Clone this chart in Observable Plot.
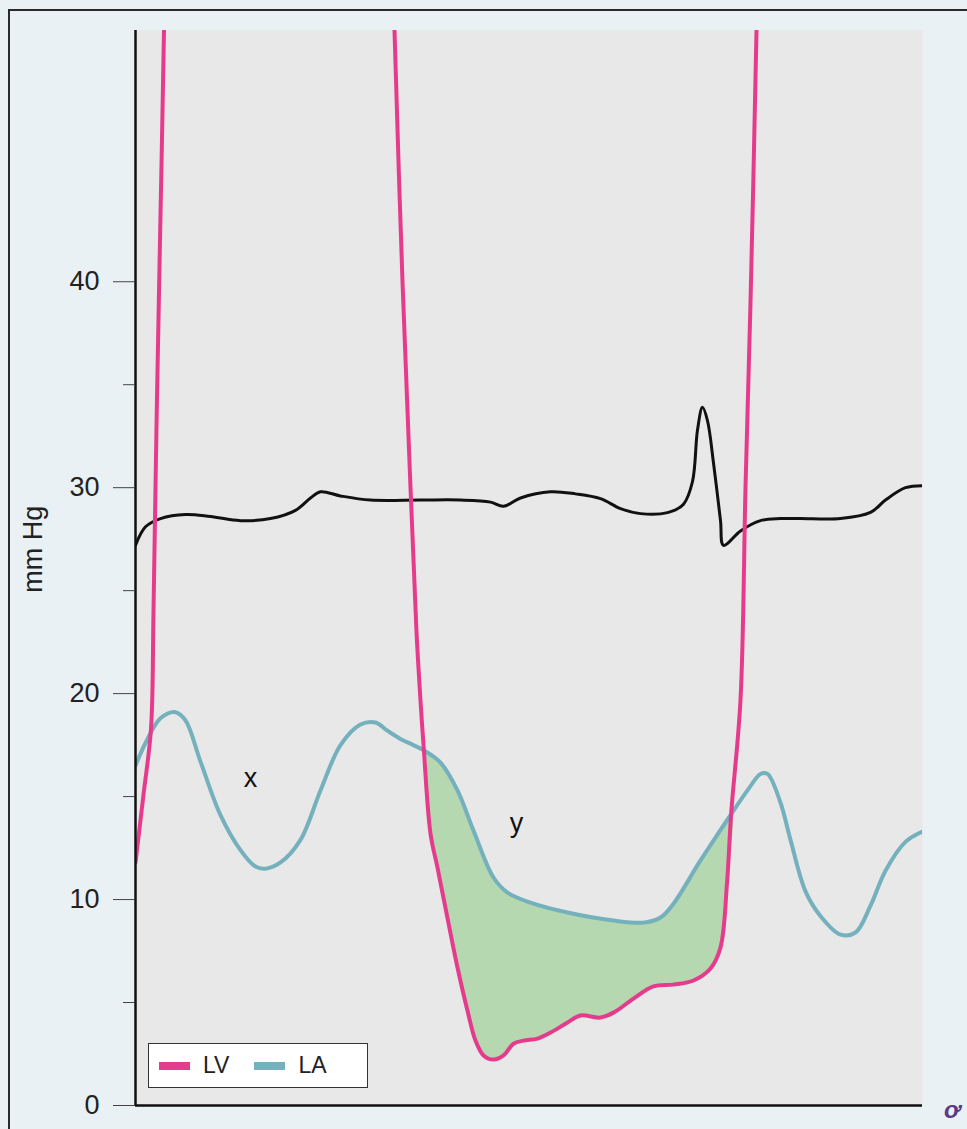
<!DOCTYPE html>
<html><head><meta charset="utf-8">
<script src="https://cdn.jsdelivr.net/npm/d3@7"></script>
<script src="https://cdn.jsdelivr.net/npm/@observablehq/plot@0.6"></script>
<style>
html,body{margin:0;padding:0;background:#e9f1f4;width:967px;height:1129px;overflow:hidden;font-family:"Liberation Sans",Arial,Helvetica,sans-serif;}
#wrap{position:relative;width:967px;height:1129px;}
#border{position:absolute;left:8px;top:9px;right:0;bottom:0;border-top:2.5px solid #2a2a2a;border-left:2.5px solid #2a2a2a;pointer-events:none}
#legend{position:absolute;left:148px;top:1043px;width:218px;height:43px;background:#fff;border:1.5px solid #333;display:flex;align-items:center;font-size:23px;color:#222}
.sw{display:inline-block;width:31px;height:8px;margin-left:10px;margin-right:13px}
#logo{position:absolute;left:944px;top:1096px;font-size:24px;color:#5b3a8c;font-style:italic;font-weight:bold}
svg{position:absolute;left:0;top:0}
</style></head>
<body><div id="wrap"><div id="border"></div></div>
<script>
// Time axis (arbitrary units across the trace), pressure in mm Hg
const lvT = [0,8,15.5,18,21,24.5,28.5,30, 100, 256,259,267,275,281,285,288.3,295,302,312,322,332,340,348,358,368,378,388,402,415,432,445,465,478,498,518,538,558,575,585,591.5,595.7,605,610,615,621,623];
const lvP = [11.8,15.1,18.3,24,33,42,52.2,58, NaN, 58,52.2,40,30,23,19.66,17.3,13.2,11.55,9.1,6.7,4.6,3.15,2.43,2.23,2.43,3.0,3.15,3.25,3.54,4.03,4.37,4.27,4.51,5.19,5.78,5.87,6.07,6.65,7.67,10.8,14.2,19.7,30,39,52.2,58];

const laT = [0,10,25,40,50,65,85,105,120,130,145,165,185,205,225,240,252,265,278,288.3,305,322,338,358,372,395,432,478,508,525,538,565,595.7,612,625,632,645,655,670,685,705,720,735,750,770,787];
const laP = [16.5,17.6,18.8,19.1,18.7,16.7,14.1,12.4,11.6,11.5,11.8,12.9,15.3,17.5,18.5,18.6,18.2,17.8,17.5,17.25,16.65,15.3,13.35,11.07,10.34,9.85,9.37,8.98,8.88,9.13,9.8,11.9,14.15,15.3,16.1,16.1,14.7,12.9,10.4,9.2,8.3,8.4,9.7,11.4,12.8,13.3];

const blackT = [0,10,25,50,75,105,135,160,175,185,205,235,285,325,355,368,385,415,440,465,485,505,532,548,557,562,567,572,578,585,588,605,625,645,665,705,735,750,770,787];
const blackP = [27.2,28.1,28.5,28.7,28.6,28.4,28.5,28.9,29.5,29.8,29.6,29.4,29.4,29.4,29.3,29.1,29.5,29.8,29.7,29.47,28.98,28.74,28.79,29.2,30.3,32.8,33.9,33.25,31.2,28.4,27.2,27.9,28.4,28.5,28.5,28.5,28.8,29.4,30.0,30.1];

const fillStart = 288.3, fillEnd = 595.7;
const majorTicks = [0,10,20,30,40];
const minorTicks = [5,15,25,35];
const labels = [{t:115, p:15.9, s:"x"}, {t:381, p:13.7, s:"y"}];
const yLabel = "mm Hg";
const legendItems = [{name:"LV", color:"#e63b8c"}, {name:"LA", color:"#74b1bd"}];

const lv = lvT.map((t,i)=>({t, p:lvP[i]}));
const la = laT.map((t,i)=>({t, p:laP[i]}));
const blk = blackT.map((t,i)=>({t, p:blackP[i]}));
const poly = la.filter(d=>d.t>=fillStart && d.t<=fillEnd)
  .concat(lv.filter(d=>d.t>fillStart && d.t<fillEnd && !isNaN(d.p)).reverse());

const font = '"Liberation Sans", Arial, Helvetica, sans-serif';
const chart = Plot.plot({
  width:967, height:1129,
  marginLeft:135, marginRight:45, marginTop:30, marginBottom:24,
  x:{domain:[0,787], axis:null},
  y:{domain:[0,52.2], axis:null},
  style:{background:"transparent", fontFamily:font, fontSize:"26px"},
  marks:[
    Plot.frame({fill:"#e8e8e8", stroke:"none"}),
    Plot.line(poly, {x:"t", y:"p", fill:"#b5d8b1", stroke:"none", curve:"catmull-rom"}),
    Plot.line(blk, {x:"t", y:"p", stroke:"#111", strokeWidth:3, curve:"catmull-rom", clip:true}),
    Plot.line(la, {x:"t", y:"p", stroke:legendItems[1].color, strokeWidth:4, curve:"catmull-rom", clip:true}),
    Plot.line(lv, {x:"t", y:"p", stroke:legendItems[0].color, strokeWidth:4, curve:"catmull-rom", clip:true}),
    Plot.ruleX([0], {stroke:"#111", strokeWidth:2.5}),
    Plot.ruleY([0], {stroke:"#111", strokeWidth:2.5}),
    Plot.axisY(majorTicks, {anchor:"left", tickSize:22, tickPadding:14, stroke:"#444", fill:"#222", fontSize:27, label:null, tickFormat:d=>String(d)}),
    Plot.axisY(minorTicks, {anchor:"left", tickSize:12, stroke:"#444", label:null, tickFormat:()=>""}),
    Plot.text([yLabel], {frameAnchor:"left", y:()=>24.9, dx:-102, rotate:-90, fontSize:27, fill:"#222"}),
    Plot.text(labels, {x:"t", y:"p", text:"s", fontSize:27, fill:"#111"})
  ]
});
const wrap = document.getElementById("wrap");
wrap.insertBefore(chart, wrap.firstChild);

const lg = document.createElement("div");
lg.id = "legend";
legendItems.forEach((it,i)=>{
  const sw = document.createElement("span");
  sw.className = "sw"; sw.style.background = it.color;
  if (i>0) sw.style.marginLeft = "25px";
  const tx = document.createElement("span"); tx.textContent = it.name;
  lg.appendChild(sw); lg.appendChild(tx);
});
wrap.appendChild(lg);
const logo = document.createElement("div");
logo.id = "logo"; logo.textContent = "ơ";
wrap.appendChild(logo);
</script>
</body></html>
